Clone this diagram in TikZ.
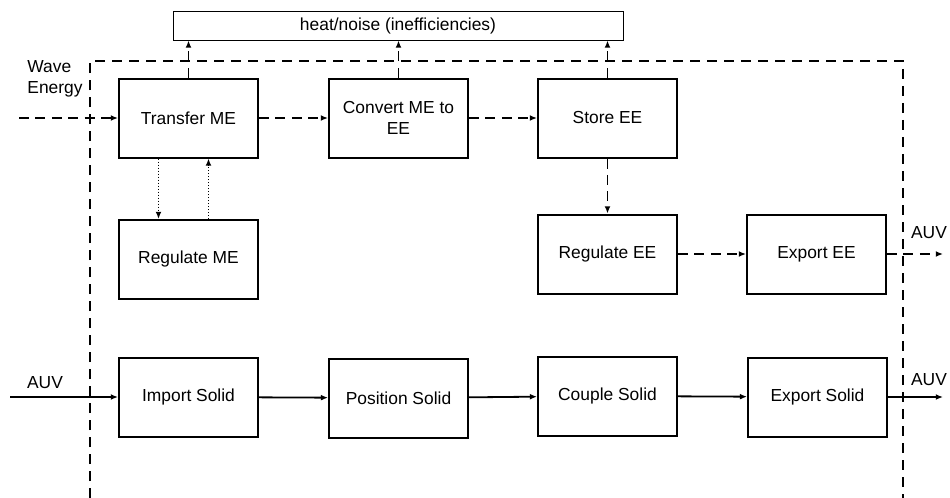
\documentclass[tikz,border=0pt]{standalone}
\usepackage{fontspec}
\setmainfont{Liberation Sans}
\usetikzlibrary{arrows.meta}

\tikzset{
  fn/.style={draw,line width=1pt,minimum width=69.5pt,minimum height=39.5pt,align=center,inner sep=1pt},
  sink/.style={draw,line width=0.5pt,minimum width=225pt,minimum height=14.5pt,inner sep=0pt},
  lbl/.style={inner sep=0pt,align=left},
  flow/.style={line width=0.9pt,-{Latex[length=3.6pt,width=3pt]}},
  flowdash/.style={flow,dash pattern=on 5pt off 3.2pt},
  flowdot/.style={flow,dash pattern=on 0.6pt off 0.9pt},
  border/.style={line width=1pt,dash pattern=on 5pt off 3.5pt}
}

\begin{document}
\begin{tikzpicture}[x=0.5pt,y=-0.5pt,font=\fontsize{8.7}{10.4}\selectfont]
  \useasboundingbox (0,0) rectangle (950,498);

  % system boundary
  \draw[border] (90,498) -- (90,61) -- (903,61) -- (903,498);

  \node[sink] (Heat) at (398,25.5) {heat/noise (inefficiencies)};

  % energy row
  \node[fn] (Transfer) at (188.5,118) {Transfer ME};
  \node[fn] (Convert) at (398.5,118) {Convert ME to\\EE};
  \node[fn] (Store) at (607.5,118) {Store EE};
  \node[fn] (RegME) at (188.5,259.5) {Regulate ME};
  \node[fn] (RegEE) at (607.5,254) {Regulate EE};
  \node[fn] (ExpEE) at (816.5,254) {Export EE};

  \node[lbl,anchor=west] (Wave) at (27,79) {Wave\\Energy};
  \coordinate (WaveIn) at (19,118);
  \coordinate (EEOut) at (943,254);
  \node[lbl] (AUVe) at (929,233) {AUV};

  \draw[flowdash] (WaveIn) -- (Transfer);
  \draw[flowdash] (Transfer) -- (Convert);
  \draw[flowdash] (Convert) -- (Store);
  \draw[flowdash] (Store) -- (RegEE);
  \draw[flowdash] (RegEE) -- (ExpEE);
  \draw[flowdash] (ExpEE) -- (EEOut);
  \foreach \f in {Transfer,Convert,Store} {
    \draw[flowdash] (\f.north) -- (\f.north |- Heat.south);
  }
  \draw[flowdot] ([xshift=-15pt]Transfer.south) -- ([xshift=-15pt]RegME.north);
  \draw[flowdot] ([xshift=10pt]RegME.north) -- ([xshift=10pt]Transfer.south);

  % material row
  \foreach \n/\x/\y/\t in {Import/188.5/397/Import Solid, Position/398.5/398/Position Solid,
                           Couple/607.5/396/Couple Solid, ExpSolid/817.5/397/Export Solid} {
    \node[fn] (\n) at (\x,\y) {\t};
  }
  \coordinate (AUVin) at (10,397);
  \coordinate (AUVout) at (943,397);
  \node[lbl] (AUVa) at (45,383) {AUV};
  \node[lbl] (AUVb) at (929,380) {AUV};

  \draw[flow] (AUVin) -- (Import);
  \draw[flow] (Import) -- (Position);
  \draw[flow] (Position) -- (Couple);
  \draw[flow] (Couple) -- (ExpSolid);
  \draw[flow] (ExpSolid) -- (AUVout);

\end{tikzpicture}
\end{document}
